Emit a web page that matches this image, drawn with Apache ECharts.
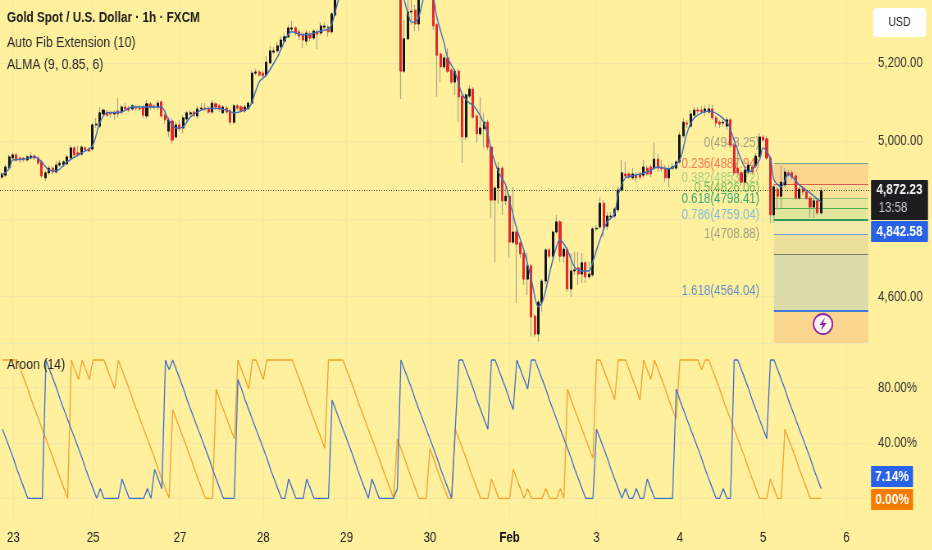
<!DOCTYPE html>
<html><head><meta charset="utf-8">
<style>html,body{margin:0;padding:0;background:#fef09d;overflow:hidden;width:932px;height:550px}#c{height:550px;transform-origin:0 0}</style>
<script src="https://cdn.jsdelivr.net/npm/echarts@6/dist/echarts.min.js"></script>
</head><body><div id="c"></div>
<script>
const FONT = '"Liberation Sans",Arial,sans-serif';
// [open, close, low, high]
const candles = [
[4907,4915,4902,4920],[4912,4933,4907,4938],[4931,4959,4925,4964],[4956,4964,4951,4969],[4964,4951,4946,4969],
[4956,4951,4943,4961],[4956,4951,4946,4959],[4951,4959,4946,4964],[4956,4961,4953,4971],[4961,4956,4951,4966],
[4956,4943,4938,4961],[4946,4910,4905,4951],[4905,4918,4897,4923],[4918,4930,4912,4936],[4930,4920,4915,4936],
[4920,4938,4915,4948],[4938,4943,4933,4951],[4938,4946,4933,4951],[4941,4959,4938,4964],[4956,4982,4951,4989],
[4982,4964,4959,4987],[4969,4964,4959,4987],[4966,4984,4961,4989],[4982,4977,4971,4987],[4979,4974,4971,4984],
[4979,5041,4974,5046],[5041,5043,5033,5059],[5038,5072,5033,5087],[5069,5079,5064,5084],[5074,5066,5061,5079],
[5072,5069,5059,5079],[5069,5072,5054,5079],[5077,5069,5059,5110],[5074,5087,5069,5092],[5087,5082,5077,5097],
[5084,5079,5074,5090],[5082,5090,5077,5095],[5087,5084,5077,5092],[5084,5082,5077,5092],[5087,5066,5059,5092],
[5064,5095,5056,5105],[5095,5087,5079,5100],[5090,5087,5082,5095],[5087,5097,5079,5105],[5100,5064,5059,5105],
[5066,5054,5043,5072],[5025,5054,5010,5061],[5051,5002,4992,5059],[5010,5041,5005,5048],[5041,5031,5025,5054],
[5033,5059,5020,5066],[5056,5072,5051,5077],[5069,5072,5064,5079],[5074,5066,5061,5079],[5064,5082,5056,5090],
[5082,5084,5077,5097],[5084,5082,5077,5097],[5084,5074,5069,5090],[5074,5097,5069,5105],[5095,5087,5079,5100],
[5090,5082,5074,5095],[5072,5087,5069,5092],[5084,5074,5069,5090],[5077,5048,5041,5082],[5048,5090,5043,5095],
[5090,5084,5079,5095],[5087,5077,5074,5092],[5077,5087,5072,5092],[5082,5097,5079,5102],[5097,5174,5092,5182],
[5174,5177,5169,5185],[5177,5169,5164,5182],[5174,5167,5161,5179],[5169,5202,5164,5218],[5200,5231,5197,5244],
[5228,5231,5223,5241],[5231,5244,5226,5254],[5241,5259,5236,5269],[5256,5267,5254,5277],[5267,5290,5264,5298],
[5287,5290,5280,5308],[5290,5277,5269,5295],[5280,5269,5259,5285],[5274,5259,5238,5280],[5256,5277,5246,5285],
[5274,5264,5256,5282],[5264,5282,5259,5287],[5280,5274,5236,5287],[5277,5295,5272,5305],[5292,5295,5285,5305],
[5292,5280,5267,5298],[5280,5326,5274,5331],[5323,5372,5320,5380],[5372,5415,5368,5420],[5415,5440,5405,5450],
[5440,5480,5430,5490],[5480,5470,5460,5495],[5470,5510,5465,5520],[5510,5500,5490,5525],[5500,5540,5495,5550],
[5540,5530,5515,5560],[5530,5570,5525,5585],[5570,5555,5540,5590],[5555,5520,5510,5565],[5520,5500,5480,5530],
[5500,5470,5450,5510],[5470,5490,5440,5500],[5490,5450,5425,5495],[5450,5420,5400,5460],[5420,5400,5380,5430],
[5400,5179,5107,5410],[5179,5262,5174,5310],[5262,5331,5259,5370],[5331,5333,5298,5362],[5336,5300,5282,5349],
[5300,5380,5282,5395],[5380,5410,5372,5420],[5410,5400,5385,5425],[5400,5390,5372,5415],[5390,5295,5285,5400],
[5298,5220,5113,5303],[5223,5190,5151,5228],[5190,5213,5185,5220],[5213,5179,5174,5238],[5182,5151,5146,5187],
[5151,5179,5118,5185],[5179,5113,5048,5185],[5115,5010,4943,5120],[5010,5118,5002,5123],[5115,5133,5110,5143],
[5133,5061,5056,5138],[5064,5018,4995,5069],[5018,5033,5013,5113],[5031,5048,4982,5072],[5048,4984,4977,5054],
[4984,4848,4802,4989],[4848,4879,4689,4884],[4879,4930,4838,4946],[4930,4846,4810,4936],[4846,4858,4835,4887],
[4858,4740,4699,4864],[4740,4766,4735,4882],[4766,4735,4584,4771],[4738,4710,4699,4743],[4712,4645,4630,4717],
[4645,4679,4604,4712],[4679,4548,4497,4684],[4550,4504,4497,4556],[4504,4586,4484,4592],[4586,4640,4561,4645],
[4640,4720,4632,4725],[4720,4704,4699,4725],[4704,4766,4699,4771],[4766,4792,4761,4810],[4792,4704,4689,4797],
[4704,4722,4687,4728],[4722,4620,4612,4728],[4620,4666,4599,4712],[4666,4669,4656,4715],[4674,4658,4630,4715],
[4658,4687,4635,4712],[4687,4651,4635,4692],[4651,4658,4645,4689],[4656,4774,4651,4779],[4774,4776,4769,4784],
[4779,4840,4774,4856],[4840,4779,4753,4848],[4781,4807,4771,4817],[4805,4807,4799,4817],[4807,4825,4802,4830],
[4823,4874,4817,4884],[4874,4918,4869,4951],[4915,4910,4905,4946],[4915,4907,4902,4920],[4905,4915,4900,4930],
[4912,4905,4894,4920],[4915,4907,4900,4920],[4912,4933,4905,4951],[4930,4915,4910,4938],[4933,4915,4907,4938],
[4930,4953,4925,4995],[4953,4930,4920,4966],[4930,4928,4920,4951],[4930,4905,4894,4938],[4905,4928,4882,4938],
[4930,4933,4925,4943],[4930,4946,4925,4951],[4946,5015,4941,5023],[5013,5048,5007,5059],[5046,5043,5033,5054],
[5038,5069,5033,5079],[5066,5079,5061,5087],[5079,5077,5069,5087],[5079,5075,5069,5090],[5074,5082,5064,5092],
[5074,5082,5069,5095],[5082,5059,5054,5092],[5059,5046,5036,5064],[5048,5043,5033,5054],[5046,5048,5036,5056],
[5038,5054,5028,5061],[5054,4989,4982,5059],[4989,4918,4910,4995],[4930,4918,4910,4977],[4918,4894,4884,4925],
[4894,4925,4889,4930],[4920,4938,4915,4946],[4933,4920,4912,4938],[4936,4961,4930,4969],[4959,5010,4956,5020],
[5010,5002,4997,5015],[5005,4956,4951,5013],[4956,4810,4789,4961],[4810,4882,4789,4887],[4876,4858,4823,4882],
[4858,4894,4828,4938],[4887,4920,4882,4930],[4918,4912,4907,4925],[4918,4907,4900,4925],[4910,4853,4848,4915],
[4853,4876,4848,4882],[4879,4869,4861,4884],[4869,4853,4848,4874],[4853,4830,4802,4858],[4830,4846,4802,4851],
[4846,4815,4810,4851],[4815,4872.23,4810,4882]
];
// [bar index, value]
const alma = [
[0,4912],[2,4928],[3,4951],[6,4953],[9,4959],[11,4946],[13,4925],[15,4923],[18,4946],[22,4969],[25,4987],[27,5046],
[29,5072],[33,5074],[36,5087],[40,5087],[44,5087],[46,5054],[48,5033],[50,5036],[52,5061],[55,5079],[58,5084],[62,5079],
[64,5072],[68,5084],[69,5100],[71,5151],[73,5169],[76,5215],[80,5280],[83,5272],[85,5274],[88,5282],[90,5287],[91,5298],
[92,5333],[94,5395],[100,5520],[106,5460],[110,5390],[111,5362],[112,5328],[113,5305],[114,5305],[115,5318],[116,5354],
[117,5385],[118,5385],[119,5370],[120,5318],[122,5251],[123,5213],[125,5177],[127,5120],[129,5097],[130,5092],[132,5064],
[134,5020],[135,4977],[137,4920],[139,4887],[140,4848],[142,4776],[144,4720],[146,4648],[148,4574],[149,4584],[150,4615],
[152,4694],[154,4746],[156,4720],[158,4676],[160,4666],[162,4666],[163,4689],[165,4746],[167,4792],[169,4812],[170,4861],
[172,4905],[174,4910],[178,4920],[181,4933],[184,4928],[187,4951],[189,5020],[191,5059],[195,5077],[200,5048],[202,5002],
[204,4951],[206,4920],[209,4951],[210,4982],[212,4956],[213,4900],[215,4882],[217,4915],[220,4887],[223,4866],[226,4842.58]
];
const aroonUp = [
100,100,100,100,100,93,86,79,71,64,57,50,43,36,29,21,14,7,0,100,93,86,100,93,86,100,100,100,100,93,86,79,100,
93,86,79,71,64,57,50,43,36,29,21,14,7,0,64,57,50,43,36,29,21,14,7,0,0,0,79,71,64,57,50,43,100,93,86,79,100,100,93,86,
100,100,100,100,100,100,100,100,93,86,79,71,64,57,50,43,36,100,100,100,100,100,
93,86,79,71,64,57,50,43,36,29,21,14,7,0,43,36,29,21,14,7,0,0,0,36,29,21,14,7,0,0,50,43,36,29,21,14,7,0,0,0,14,7,0,0,0,0,
21,14,7,0,7,0,0,0,0,7,0,0,0,7,0,79,71,64,57,50,43,36,29,100,100,93,86,79,71,100,100,100,93,86,79,71,100,93,86,100,93,86,79,71,64,57,
100,100,100,100,100,100,93,100,100,93,86,79,71,64,57,50,43,36,29,21,14,7,0,0,0,14,7,0,0,50,43,36,29,21,14,7,0,0,0,0
];
const aroonDown = [
50,43,36,29,21,14,7,0,0,0,0,0,100,93,86,79,71,64,57,50,43,36,29,21,14,7,0,7,0,0,0,0,0,14,7,0,0,0,0,0,7,0,21,14,7,100,93,100,
93,86,79,71,64,57,50,43,36,29,21,14,7,0,0,0,0,86,79,71,64,57,50,43,36,29,21,14,7,0,0,14,7,0,0,0,14,7,0,0,0,0,0,
71,64,57,50,43,36,29,21,14,7,0,14,7,0,0,0,0,0,7,100,93,86,79,71,64,57,50,43,36,29,21,14,7,0,50,100,100,93,86,79,71,64,57,50,
100,100,93,86,79,71,64,100,93,86,79,100,100,93,86,79,71,64,57,50,43,36,29,21,14,7,0,0,0,50,43,36,29,21,14,7,0,
7,0,0,7,0,0,14,7,0,0,0,0,0,0,79,71,64,57,50,43,36,29,21,14,7,0,0,7,0,0,100,100,93,86,79,71,64,57,50,43,
100,100,93,86,79,71,64,57,50,43,36,29,21,14,7
];
const BAR_SLOTS = 240;
const dayLabels = {3:'23',25:'25',49:'27',72:'28',95:'29',118:'30',140:'Feb',164:'3',187:'4',210:'5',233:'6'};
const categories = Array.from({length:BAR_SLOTS},(_,i)=>dayLabels[i]||'');
const priceLines = [4600,4800,5000,5200];
const priceLabels = [4600,5000,5200];
const aroonLines = [0,40,80];
const aroonLabels = [40,80];
const fibLevels = [0,0.236,0.382,0.5,0.618,0.786,1,1.618];
const fibPrices = [4943.25,4887.94,4853.72,4826.06,4798.41,4759.04,4708.88,4564.04];
const fibLabelColors = ['#8a8a80','#ef5a45','#8fc97c','#4caf50','#089a70','#64b0e8','#8a8a80','#3f78d8'];
const fibLineColors = ['#84a08a','#d9584f','#8cbf72','#4caf50','#2e9e58','#6fa3dc','#7c7c70','#3f78d8'];
const fibLineWidths = [1,1,1,1,2,1,1,2];
const fibFills = ['#f9d58e','#f8e096','#e6e69a','#e2e69c','#f0ebaa','#ecdf9b','#dcdbaa','#f9d58e'];
const lastPrice = 4872.23;
const PRICE_MIN = 4481, PRICE_MAX = 5361.7;
const FIB_START = 213, FIB_END = 239;

// The reference is horizontally condensed: the chart is laid out wider and the page squeezes it.
const K = 0.82;
const X = v => v / K;
const el = document.getElementById('c');
el.style.width = X(932) + 'px';
el.style.transform = 'scaleX(' + K + ')';

const fibAreas = fibPrices.map((p,i)=>[
  {xAxis:FIB_START,yAxis:p,itemStyle:{color:fibFills[i]}},
  {xAxis:FIB_END,yAxis:i+1<fibPrices.length?fibPrices[i+1]:PRICE_MIN}
]);
const fibLines = fibPrices.map((p,i)=>[
  {coord:[FIB_START,p],lineStyle:{color:fibLineColors[i],width:fibLineWidths[i],type:'solid'}},
  {coord:[FIB_END,p]}
]);
const gridLine = {show:true,lineStyle:{color:'#f3e8a6',width:1}};
const chart = echarts.init(el,null,{renderer:'canvas'});
const baseX = gi => ({
  type:'category',gridIndex:gi,data:categories,boundaryGap:true,
  axisTick:{show:false},
  axisLine:{show:gi===0,lineStyle:{color:'#efe9b8'}},
  splitLine:{show:true,alignWithLabel:true,interval:(i)=>!!categories[i],lineStyle:{color:'#f3e8a6',width:1}},
  axisLabel: gi===1 ? {
    show:true,interval:0,hideOverlap:false,margin:13,fontFamily:FONT,fontSize:14,color:'#222',
    formatter:v=>v==='Feb'?'{b|Feb}':v,rich:{b:{fontFamily:FONT,fontSize:14,fontWeight:'bold',color:'#111'}}
  } : {show:false}
});
const bigText = (x,y,text,fill,align,size,bold) => ({type:'text',z:41,x:X(x),y:y,style:{text,fontFamily:FONT,fontSize:size||14,fontWeight:bold?'bold':'normal',fill,align:align||'center',verticalAlign:'middle'}});
const box = (x,y,w,h,fill,r) => ({type:'rect',z:40,shape:{x:X(x),y,width:X(w),height:h,r:r||1},style:{fill}});
chart.setOption({
  animation:false,
  backgroundColor:'#fef09d',
  grid:[{left:0,top:0,width:X(870),height:343},{left:0,top:345,width:X(870),height:173}],
  xAxis:[baseX(0),baseX(1)],
  yAxis:[
    {type:'value',gridIndex:0,position:'right',min:PRICE_MIN,max:PRICE_MAX,scale:true,
     axisLine:{show:false},axisTick:{show:false,customValues:priceLines},splitLine:gridLine,
     axisLabel:{customValues:priceLabels,margin:X(8),fontFamily:FONT,fontSize:14,color:'#333',
       formatter:v=>v.toLocaleString('en-US',{minimumFractionDigits:2})}},
    {type:'value',gridIndex:1,position:'right',min:-14.24,max:110.85,
     axisLine:{show:false},axisTick:{show:false,customValues:aroonLines},splitLine:gridLine,
     axisLabel:{customValues:aroonLabels,margin:X(8),fontFamily:FONT,fontSize:14,color:'#333',
       formatter:v=>v.toFixed(2)+'%'}}
  ],
  series:[
    {name:'fib',type:'line',data:[],xAxisIndex:0,yAxisIndex:0,z:1,silent:true,
     markArea:{silent:true,data:fibAreas,z:1},
     markLine:{silent:true,symbol:'none',label:{show:false},data:fibLines,z:2}},
    {name:'fibLabels',type:'scatter',xAxisIndex:0,yAxisIndex:0,z:2,silent:true,symbolSize:0,
     data:fibPrices.map((p,i)=>({value:[209,p],label:{color:fibLabelColors[i]}})),
     label:{show:true,position:'left',distance:0,offset:[0,-20],fontFamily:FONT,fontSize:14,
       formatter:o=>fibLevels[o.dataIndex]+'('+fibPrices[o.dataIndex].toFixed(2)+')'}},
    {name:'wicks',type:'candlestick',xAxisIndex:0,yAxisIndex:0,z:3,barWidth:1.2,clip:true,
     itemStyle:{color:'#a8a68a',color0:'#a8a68a',borderColor:'#a8a68a',borderColor0:'#a8a68a',borderWidth:1.2},
     data:candles},
    {name:'bodies',type:'candlestick',xAxisIndex:0,yAxisIndex:0,z:4,barWidth:2.6,clip:true,
     itemStyle:{color:'#141414',color0:'#e8262e',borderColor:'#141414',borderColor0:'#e8262e',borderWidth:1},
     data:candles.map(c=>[c[0],c[1],Math.min(c[0],c[1]),Math.max(c[0],c[1])]),
     markLine:{silent:true,symbol:'none',label:{show:false},z:6,
       lineStyle:{color:'#3a3a2a',type:[1,2],width:1},data:[{yAxis:lastPrice}]}},
    {name:'ALMA',type:'line',xAxisIndex:0,yAxisIndex:0,z:5,data:alma,smooth:0.3,showSymbol:false,clip:true,
     lineStyle:{color:'#3f6fc0',width:1.4}},
    {name:'Aroon Up',type:'line',xAxisIndex:1,yAxisIndex:1,z:3,data:aroonUp,showSymbol:false,
     lineStyle:{color:'#f5a02a',width:1.3}},
    {name:'Aroon Down',type:'line',xAxisIndex:1,yAxisIndex:1,z:4,data:aroonDown,showSymbol:false,
     lineStyle:{color:'#3f6fd0',width:1.3}}
  ],
  graphic:[
    {type:'text',z:50,x:X(7),y:18,style:{text:'Gold Spot / U.S. Dollar · 1h · FXCM',fontFamily:FONT,fontSize:14.3,fontWeight:'bold',fill:'#1c1c1c',verticalAlign:'middle'}},
    {type:'text',z:50,x:X(7),y:43,style:{text:'Auto Fib Extension (10)',fontFamily:FONT,fontSize:15,fill:'#2a2a2a',verticalAlign:'middle'}},
    {type:'text',z:50,x:X(7),y:65,style:{text:'ALMA (9, 0.85, 6)',fontFamily:FONT,fontSize:15,fill:'#2a2a2a',verticalAlign:'middle'}},
    {type:'text',z:50,x:X(7),y:365,style:{text:'Aroon (14)',fontFamily:FONT,fontSize:15,fill:'#2a2a2a',verticalAlign:'middle'}},
    box(873,8,53,29,'#ffffff',4),
    bigText(899.5,22.5,'USD','#222','center',13),
    box(871,180,57,40,'#1d1d20'),
    bigText(899.5,190,'4,872.23','#f5f5f5','center',14.5,true),
    bigText(893,208,'13:58','#c9c9c9','center',14),
    box(871,221,57,21,'#2962e8'),
    bigText(899.5,231.5,'4,842.58','#ffffff','center',14.5,true),
    box(871,466,42,21,'#2962e8'),
    bigText(892,476.5,'7.14%','#ffffff','center',14.5,true),
    box(871,489,42,21,'#f57c00'),
    bigText(892,499.5,'0.00%','#ffffff','center',14.5,true),
    {type:'ellipse',z:40,shape:{cx:X(823),cy:324,rx:X(9.5),ry:10},style:{fill:'#fdf6f0',stroke:'#8e24aa',lineWidth:1.8}},
    {type:'polygon',z:41,shape:{points:[[825,317.5],[819.5,325],[822.6,325],[820.8,330.8],[826.5,323],[823.2,323]].map(p=>[X(p[0]),p[1]])},style:{fill:'#8e24aa'}}
  ]
});
</script>
</body></html>
